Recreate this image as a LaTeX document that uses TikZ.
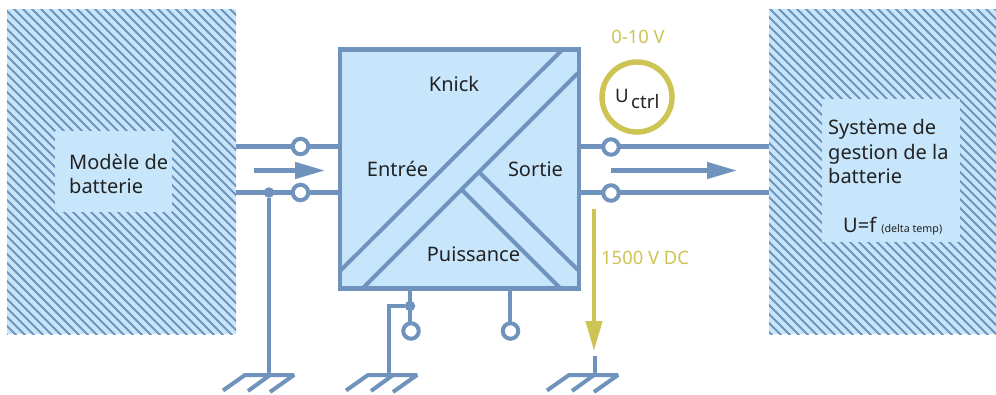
\documentclass[tikz,border=0pt]{standalone}
\usepackage{fontspec}
\setmainfont{Noto Sans}
\usetikzlibrary{arrows.meta}
\definecolor{wire}{HTML}{6F93BC}
\definecolor{pale}{HTML}{C8E6FB}
\definecolor{olive}{HTML}{CDC453}
\definecolor{ink}{HTML}{222222}
\tikzset{
  x=1pt,y=-1pt,
  wireline/.style={draw=wire,line width=4.4pt},
  thinline/.style={draw=wire,line width=4pt},
  terminal/.style={circle,draw=wire,fill=white,line width=4pt,minimum size=15.5pt,inner sep=0pt},
  junction/.style={circle,fill=wire,minimum size=10.5pt,inner sep=0pt},
  flow/.style={draw=wire,line width=4.4pt,-{Triangle[length=30pt,width=16pt,fill=wire]}},
  volt/.style={draw=olive,line width=4.4pt,-{Triangle[length=30pt,width=16pt,fill=olive]}},
  lab/.style={text=ink,font=\fontsize{20}{24.5}\selectfont,inner sep=0pt},
  labl/.style={lab,align=left,anchor=north west},
  subl/.style={text=ink,font=\fontsize{18.6}{22}\selectfont,inner sep=0pt},
  vlab/.style={text=olive,font=\fontsize{18.4}{22}\selectfont,inner sep=0pt},
  pale box/.style={fill=pale,draw=none,inner sep=0pt},
  gnd/.style={draw=wire,line width=4pt},
}
\newcommand{\hatchbox}[4]{%
  \fill[pale] (#1,#2) rectangle (#3,#4);
  \begin{scope}
    \clip (#1,#2) rectangle (#3,#4);
    \foreach \k in {-400,-391,...,1400}
      \draw[wire,line width=2.1pt] (\k,0) -- (\k+400,400);
  \end{scope}}
\newcommand{\groundsym}[2]{%
  \draw[gnd,line join=bevel] (#1-22,#2+15.5) -- (#1,#2) -- (#1+49,#2) -- (#1+25,#2+17);
  \draw[gnd] (#1+25,#2) -- (#1+3,#2+16);}
\begin{document}
\begin{tikzpicture}
\useasboundingbox (0,0) rectangle (996,394);
\fill[white] (0,0) rectangle (996,394);
\hatchbox{7}{9}{236}{334}
\hatchbox{769}{9}{996}{334}
\node[pale box,minimum width=117pt,minimum height=81pt] (leftinner) at (113.5,171.5) {};
\node[pale box,minimum width=138pt,minimum height=143pt] (rightinner) at (891,170.5) {};
\node[labl] (model) at (69,153.5) {Modèle de\\batterie};
\node[labl] (systeme) at (828,119) {Système de\\gestion de la\\batterie};
\node[lab,anchor=base west] (formula) at (843,232) {U=f {\fontsize{10.7}{12}\selectfont (delta temp)}};
% converter
\node[draw=wire,fill=pale,line width=4.4pt,minimum width=239pt,minimum height=239pt,inner sep=0pt] (conv) at (459.5,169) {};
\coordinate (d1a) at (340,271); \coordinate (d1b) at (562,50);
\coordinate (d2a) at (363,288); \coordinate (d2b) at (578,73);
\coordinate (b1a) at (462,190); \coordinate (b1b) at (560,288);
\coordinate (b2a) at (480,173); \coordinate (b2b) at (578,270);
\draw[thinline] (d1a) -- (d1b);
\draw[thinline] (d2a) -- (d2b);
\draw[thinline] (b1a) -- (b1b);
\draw[thinline] (b2a) -- (b2b);
\node[lab] (knick) at (454,84) {Knick};
\node[lab] (entree) at (397.5,169) {Entrée};
\node[lab] (sortie) at (535.5,169) {Sortie};
\node[lab] (puissance) at (473.5,254) {Puissance};
% left wires
\coordinate (lt) at (236,146.5); \coordinate (lb) at (236,192.5);
\coordinate (ct) at (338,146.5); \coordinate (cb) at (338,192.5);
\draw[wireline] (lt) -- (ct);
\draw[wireline] (lb) -- (cb);
\node[terminal] (t1) at (300.5,146.5) {};
\node[terminal] (t2) at (300.5,192.5) {};
\node[junction] (j1) at (269,192.5) {};
\coordinate (g1) at (269,375);
\draw[thinline] (j1) -- (g1);
\groundsym{245}{375}
\coordinate (af1) at (254,170.5); \coordinate (at1) at (325,170.5);
\draw[flow] (af1) -- (at1);
% right wires
\coordinate (rt) at (769,146.5); \coordinate (rb) at (769,192.5);
\coordinate (dt) at (581,146.5); \coordinate (db) at (581,192.5);
\draw[wireline] (dt) -- (rt);
\draw[wireline] (db) -- (rb);
\node[terminal] (t3) at (611,147) {};
\node[terminal] (t4) at (611,193) {};
\coordinate (af2) at (611,170.5); \coordinate (at2) at (737,170.5);
\draw[flow] (af2) -- (at2);
% bottom terminals
\coordinate (s1) at (410,290); \coordinate (s2) at (510,290);
\node[terminal] (t5) at (411,331) {};
\node[terminal] (t6) at (510.5,331) {};
\node[junction] (j2) at (410,306) {};
\draw[thinline] (s1) -- (410,322);
\draw[thinline] (s2) -- (510,322);
\coordinate (g2) at (389,375);
\draw[thinline,line join=miter] (j2) -- (389,306) -- (g2);
\groundsym{368}{375}
% olive
\coordinate (v1) at (594,209); \coordinate (v2) at (594,351);
\draw[volt] (v1) -- (v2);
\coordinate (g3) at (595,356); \coordinate (g3b) at (595,375);
\draw[thinline] (g3) -- (g3b);
\groundsym{569}{375}
\node[vlab,anchor=west] (v1500) at (601,258) {1500 V DC};
\node[vlab] (v010) at (638,37) {0-10 V};
\node[draw=olive,line width=5.4pt,circle,minimum size=70pt,inner sep=0pt] (uctrl) at (637,97) {};
\node[subl,anchor=base west] (ulabel) at (615,102) {U};
\node[subl,anchor=base west] (ctrllabel) at (631,108) {ctrl};
\end{tikzpicture}
\end{document}
